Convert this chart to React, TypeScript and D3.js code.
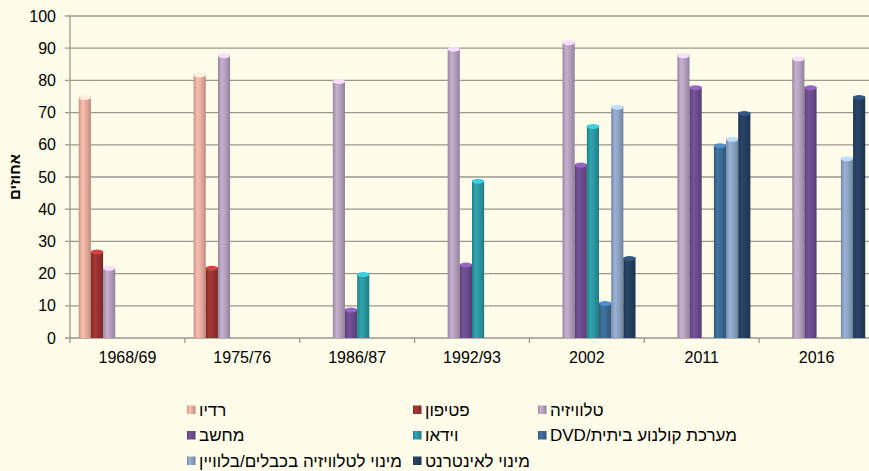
import React from 'react';
import * as d3 from 'd3';

// survey years
const years = ['1968/69', '1975/76', '1986/87', '1992/93', '2002', '2011', '2016'];

// series names (Hebrew, as in the legend)
const seriesNames = [
  'רדיו',
  'פטיפון',
  'טלוויזיה',
  'מחשב',
  'וידאו',
  'מערכת קולנוע ביתית/DVD',
  'מינוי לטלוויזיה בכבלים/בלוויין',
  'מינוי לאינטרנט',
];

// percent values per series, one per year (null = no bar)
const radio = [75, 82, null, null, null, null, null];
const phonograph = [27, 22, null, null, null, null, null];
const television = [22, 88, 80, 90, 92, 88, 87];
const computer = [null, null, 9, 23, 54, 78, 78];
const video = [null, null, 20, 49, 66, null, null];
const dvd = [null, null, null, null, 11, 60, null];
const cable = [null, null, null, null, 72, 62, 56];
const internet = [null, null, null, null, 25, 70, 75];

const seriesValues = [radio, phonograph, television, computer, video, dvd, cable, internet];

const yTicks = [0, 10, 20, 30, 40, 50, 60, 70, 80, 90, 100];

const colors = ['#E7AE9F', '#983131', '#B4A1BE', '#6C4B8D', '#2A97A1', '#3B6993', '#8BA2C3', '#253F5F'];

const W = 869;
const H = 471;
const margin = { left: 70, top: 16, right: -5, bottom: 133 };

export default function App() {
  const x = d3
    .scaleBand<string>()
    .domain(years)
    .range([margin.left, W - margin.right]);
  const inner = d3
    .scaleBand<number>()
    .domain(d3.range(seriesNames.length))
    .range([0, x.bandwidth()])
    .paddingInner(0)
    .paddingOuter(0.72);
  const y = d3.scaleLinear().domain([0, 100]).range([H - margin.bottom, margin.top]);

  const bw = inner.bandwidth();
  const font = 'Liberation Sans, Arial, sans-serif';

  // legend layout: 3 columns, rows in reading order
  const legendCols = [187, 413, 538];
  const legendRows = [410, 435.5, 461];

  return (
    <div>
      <style>{'body{margin:0}'}</style>
      <svg width={W} height={H} style={{ display: 'block', background: '#FFFCE9' }}>
        <defs>
          {colors.map((c, i) => {
            const base = d3.color(c)!;
            return (
              <linearGradient key={i} id={'bar' + i} x1="0" x2="1" y1="0" y2="0">
                <stop offset="0%" stopColor={base.darker(0.5).formatHex()} />
                <stop offset="30%" stopColor={base.brighter(0.25).formatHex()} />
                <stop offset="60%" stopColor={base.formatHex()} />
                <stop offset="100%" stopColor={base.darker(0.6).formatHex()} />
              </linearGradient>
            );
          })}
        </defs>

        {/* gridlines */}
        {yTicks.map((t) => (
          <line
            key={t}
            x1={margin.left - 5}
            x2={W}
            y1={y(t)}
            y2={y(t)}
            stroke="#9A998E"
            strokeWidth={1.3}
          />
        ))}
        <line x1={margin.left} x2={margin.left} y1={y(100)} y2={y(0)} stroke="#9A998E" strokeWidth={1.3} />

        {/* x ticks at band edges */}
        {years.map((yr) => (
          <line
            key={yr}
            x1={x(yr)!}
            x2={x(yr)!}
            y1={y(0)}
            y2={y(0) + 5}
            stroke="#9A998E"
            strokeWidth={1.3}
          />
        ))}

        {/* bars */}
        {seriesValues.map((vals, s) => (
          <g key={s}>
            {vals.map((v, i) => {
              if (v == null) return null;
              const bx = x(years[i])! + inner(s)!;
              const top = y(v);
              const base = d3.color(colors[s])!;
              return (
                <g key={i}>
                  <rect x={bx} y={top} width={bw} height={y(0) - top} fill={`url(#bar${s})`} />
                  <ellipse
                    cx={bx + bw / 2}
                    cy={top + 1}
                    rx={bw / 2}
                    ry={2.5}
                    fill={base.brighter(0.9).formatHex()}
                  />
                </g>
              );
            })}
          </g>
        ))}

        {/* y tick labels */}
        {yTicks.map((t) => (
          <text
            key={t}
            x={56}
            y={y(t)}
            dy="0.35em"
            textAnchor="end"
            fontFamily={font}
            fontSize={16}
            fill="#000"
          >
            {t}
          </text>
        ))}

        {/* x labels */}
        {years.map((yr) => (
          <text
            key={yr}
            x={x(yr)! + x.bandwidth() / 2}
            y={363}
            textAnchor="middle"
            fontFamily={font}
            fontSize={16}
            fill="#000"
          >
            {yr}
          </text>
        ))}

        {/* y title */}
        <text
          transform={`translate(20, ${y(50)}) rotate(-90)`}
          textAnchor="middle"
          fontFamily={font}
          fontSize={15}
          fontWeight="bold"
          fill="#000"
        >
          אחוזים
        </text>

        {/* legend */}
        {seriesNames.map((name, i) => {
          const col = i % 3;
          const row = Math.floor(i / 3);
          const lx = legendCols[col];
          const ly = legendRows[row];
          return (
            <g key={name}>
              <rect x={lx} y={ly - 4.5} width={8.5} height={8.5} fill={`url(#bar${i})`} />
              <text
                x={lx + 12}
                y={ly}
                dy="0.35em"
                direction="rtl"
                textAnchor="end"
                fontFamily={font}
                fontSize={17}
                fill="#000"
              >
                {name}
              </text>
            </g>
          );
        })}
      </svg>
    </div>
  );
}
